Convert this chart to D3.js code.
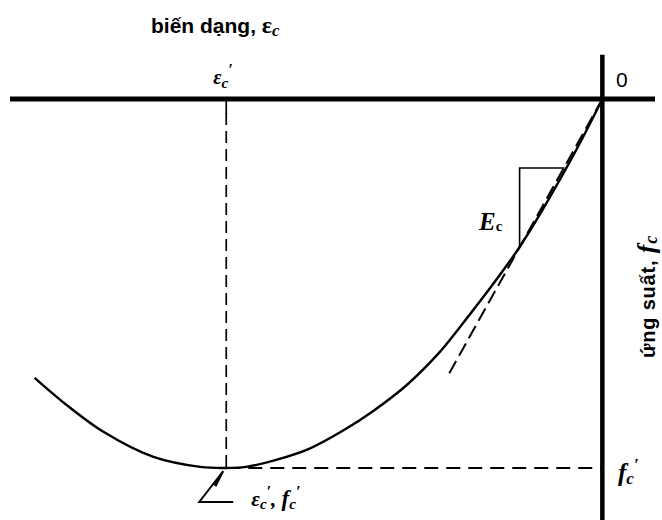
<!DOCTYPE html>
<html>
<head>
<meta charset="utf-8">
<script src="https://cdn.jsdelivr.net/npm/d3@7"></script>
<style>
  html, body { margin: 0; padding: 0; background: #fff; }
  svg { display: block; }
</style>
</head>
<body>
<svg id="chart" width="662" height="520"></svg>
<script>
// Compressive stress-strain curve of concrete (strain in ‰, stress as f/f'c)
const strain = [0, 0.159, 0.44, 0.769, 0.865, 1.04, 1.22, 1.374, 1.56, 1.735, 1.894, 2.0, 2.138, 2.387, 2.653, 2.881, 3.019];
const stress = [0, 0.157, 0.401, 0.626, 0.686, 0.775, 0.846, 0.897, 0.948, 0.978, 0.997, 1.0, 0.997, 0.970, 0.902, 0.816, 0.756];

// Peak point (ε'c, f'c)
const peakStrain = 2.0;
const peakStress = 1.0;

// Initial modulus line E_c and its slope triangle
const tangentStrain = [0, 0.828];
const tangentStress = [0, 0.756];
const triangleStrain = [0.201, 0.44, 0.44];
const triangleStress = [0.187, 0.187, 0.401];

// Labels
const xAxisTitle = "biến dạng, ";
const yAxisTitle = "ứng suất, ";
const originLabel = "0";

const svg = d3.select("#chart");
const H = 520;

// Strain grows to the left, stress grows downward
const x = d3.scaleLinear().domain([3.15, -0.28]).range([10, 655]);
const y = d3.scaleLinear().domain([0, 1]).range([99, 468]);

const sans = "'Liberation Sans', Arial, Helvetica, sans-serif";
const serif = "'Liberation Serif', 'Times New Roman', serif";

// Curve through the read points
const pts = strain.map((s, i) => [x(s), y(stress[i])]);
svg.append("path")
  .datum(pts)
  .attr("d", d3.line().curve(d3.curveCatmullRom.alpha(0.5)))
  .attr("fill", "none").attr("stroke", "#000").attr("stroke-width", 2.4);

// Dashed guide lines to the peak
svg.append("line")
  .attr("x1", x(peakStrain)).attr("y1", y(0) + 14)
  .attr("x2", x(peakStrain)).attr("y2", y(peakStress))
  .attr("stroke", "#000").attr("stroke-width", 1.7)
  .attr("stroke-dasharray", "12,6");
svg.append("line")
  .attr("x1", x(peakStrain)).attr("y1", y(0))
  .attr("x2", x(peakStrain)).attr("y2", y(0) + 15)
  .attr("stroke", "#000").attr("stroke-width", 1.7);
svg.append("line")
  .attr("x1", x(peakStrain)).attr("y1", y(peakStress))
  .attr("x2", x(0)).attr("y2", y(peakStress))
  .attr("stroke", "#000").attr("stroke-width", 2.2)
  .attr("stroke-dasharray", "14,8");

// Tangent (dashed) line for E_c
svg.append("line")
  .attr("x1", x(tangentStrain[0])).attr("y1", y(tangentStress[0]))
  .attr("x2", x(tangentStrain[1])).attr("y2", y(tangentStress[1]))
  .attr("stroke", "#000").attr("stroke-width", 2)
  .attr("stroke-dasharray", "14,6");

// Slope triangle
svg.append("polyline")
  .attr("points", triangleStrain.map((s, i) => [x(s), y(triangleStress[i])].join(",")).join(" "))
  .attr("fill", "none").attr("stroke", "#000").attr("stroke-width", 1.6);

// Axes
svg.append("line")
  .attr("x1", x.range()[0]).attr("x2", x.range()[1])
  .attr("y1", y(0)).attr("y2", y(0))
  .attr("stroke", "#000").attr("stroke-width", 5);
svg.append("line")
  .attr("x1", x(0)).attr("x2", x(0))
  .attr("y1", y(-0.12)).attr("y2", H)
  .attr("stroke", "#000").attr("stroke-width", 4.5);

// Leader arrow to the peak point
const px = x(peakStrain), py = y(peakStress);
svg.append("polyline")
  .attr("points", [[px - 3, py + 3], [px - 27, py + 34], [px + 7, py + 34]].map(p => p.join(",")).join(" "))
  .attr("fill", "none").attr("stroke", "#000").attr("stroke-width", 2);
svg.append("path")
  .attr("d", `M${px - 2},${py + 3} L${px - 10},${py + 19} L${px - 14},${py + 16} Z`)
  .attr("fill", "#000");

// Axis title: strain
const tx = svg.append("text")
  .attr("x", 151).attr("y", 33)
  .attr("font-family", sans).attr("font-weight", "bold").attr("font-size", 21);
tx.append("tspan").text(xAxisTitle);
tx.append("tspan").attr("font-family", serif).attr("font-size", 24).text("ε");
tx.append("tspan").attr("font-family", serif).attr("font-style", "italic").attr("font-size", 17).attr("dy", 3).text("c");

// ε'c above the axis
const et = svg.append("text")
  .attr("x", x(peakStrain) - 13).attr("y", 84)
  .attr("font-family", serif).attr("font-weight", "bold").attr("font-style", "italic").attr("font-size", 20);
et.append("tspan").text("ε");
et.append("tspan").attr("font-size", 15).attr("dy", 4).text("c");
et.append("tspan").attr("font-size", 16).attr("dy", -13).text("′");

// Origin
svg.append("text")
  .attr("x", 616).attr("y", 87)
  .attr("font-family", sans).attr("font-size", 21).text(originLabel);

// E_c
const ec = svg.append("text")
  .attr("x", 479).attr("y", 230)
  .attr("font-family", serif).attr("font-weight", "bold").attr("font-style", "italic").attr("font-size", 25);
ec.append("tspan").text("E");
ec.append("tspan").attr("font-size", 15).attr("dy", 1).attr("font-style", "normal").text("c");

// Axis title: stress (rotated)
const yt = svg.append("text")
  .attr("transform", "translate(655,358) rotate(-90)")
  .attr("font-family", sans).attr("font-weight", "bold").attr("font-size", 20)
  .attr("letter-spacing", 0.8);
yt.append("tspan").text(yAxisTitle);
yt.append("tspan").attr("font-family", serif).attr("font-style", "italic").attr("font-size", 26).text("f");
yt.append("tspan").attr("font-family", serif).attr("font-style", "italic").attr("font-size", 18).attr("dy", 2).text("c");

// f'c at the stress axis
const fc = svg.append("text")
  .attr("x", 618).attr("y", y(peakStress) + 13)
  .attr("font-family", serif).attr("font-weight", "bold").attr("font-style", "italic").attr("font-size", 25);
fc.append("tspan").text("f");
fc.append("tspan").attr("font-size", 17).attr("dy", 3).text("c");
fc.append("tspan").attr("font-size", 17).attr("dy", -14).text("′");

// Peak point label
const pk = svg.append("text")
  .attr("x", px + 25).attr("y", py + 38)
  .attr("font-family", serif).attr("font-weight", "bold").attr("font-style", "italic").attr("font-size", 21);
pk.append("tspan").text("ε");
pk.append("tspan").attr("font-size", 15).attr("dy", 3).text("c");
pk.append("tspan").attr("font-size", 16).attr("dy", -12).text("′");
pk.append("tspan").attr("dy", 9).text(", ");
pk.append("tspan").attr("font-size", 23).attr("dy", 0).text("f");
pk.append("tspan").attr("font-size", 15).attr("dy", 3).text("c");
pk.append("tspan").attr("font-size", 16).attr("dy", -12).text("′");
</script>
</body>
</html>
